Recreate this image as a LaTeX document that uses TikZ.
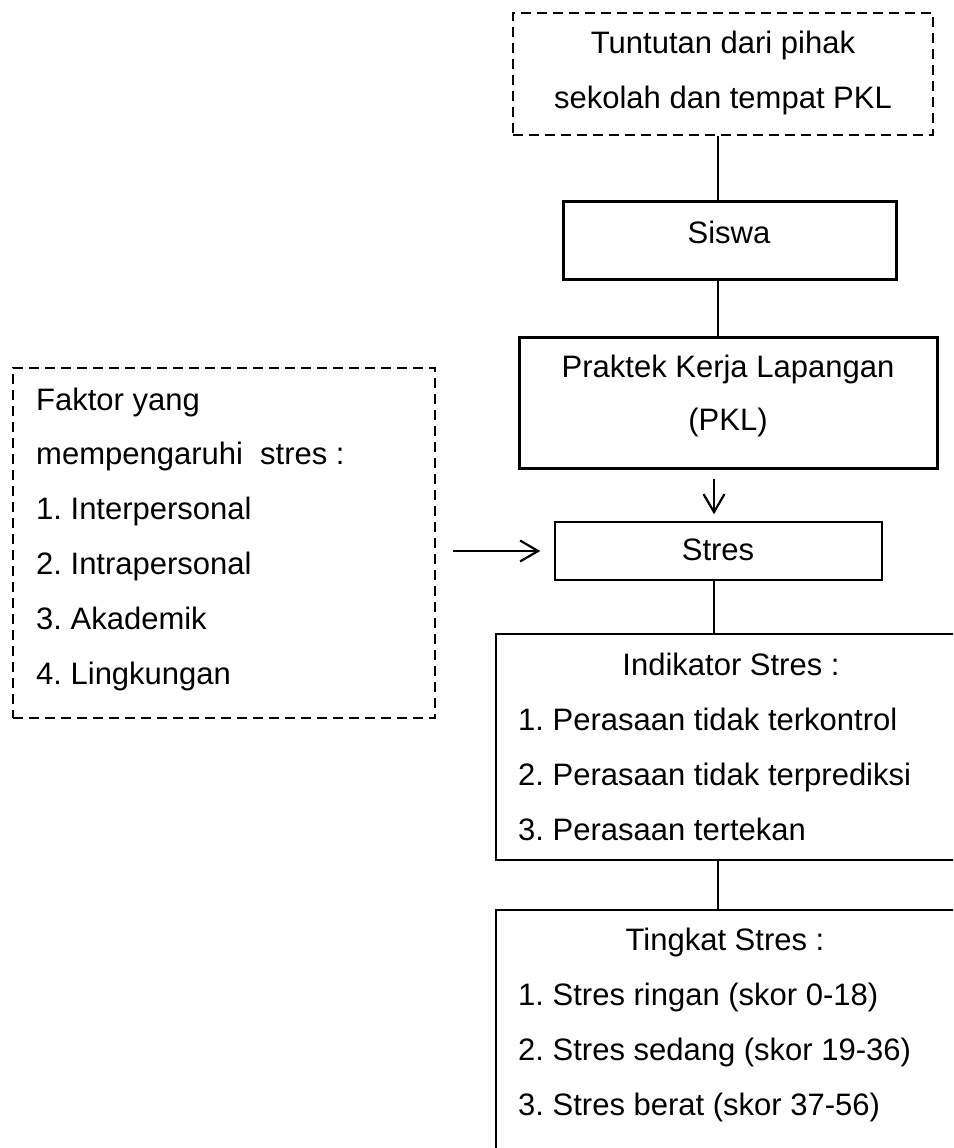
\documentclass[tikz,border=0pt]{standalone}
\usepackage{fontspec}
\setmainfont{Liberation Sans}
\usetikzlibrary{arrows.meta,calc}
\frenchspacing
\begin{document}
\begin{tikzpicture}[x=1pt,y=-1pt,
  txt/.style={font=\fontsize{31}{37}\selectfont, inner sep=0, anchor=base},
  txtl/.style={txt, anchor=base west},
  dbox/.style={draw, line width=2.4pt, dash pattern=on 10pt off 6pt, inner sep=0},
  tbox/.style={draw, line width=3pt, inner sep=0},
  nbox/.style={draw, line width=1.5pt, inner sep=0},
  conn/.style={line width=2pt},
  arr/.style={line width=2.2pt, -{Straight Barb[length=18pt,width=21pt]}}]
\useasboundingbox (0,0) rectangle (953,1148);
\clip (0,0) rectangle (953,1148);
% boxes
\node[dbox, minimum width=420pt, minimum height=122pt] (tuntutan) at (723,74) {};
\node[tbox, minimum width=333pt, minimum height=78pt] (siswa) at (729.5,240) {};
\node[tbox, minimum width=418pt, minimum height=131pt] (pkl) at (728,402.5) {};
\node[nbox, minimum width=327pt, minimum height=58pt] (stres) at (718.5,551) {};
\node[dbox, minimum width=422pt, minimum height=350pt] (faktor) at (224,543) {};
\node[nbox, minimum width=470pt, minimum height=226pt] (indikator) at (731,747) {};
\node[nbox, minimum width=470pt, minimum height=270pt] (tingkat) at (731,1045) {};
% connectors
\coordinate (cA) at (718,0);
\coordinate (cB) at (714,0);
\draw[conn] (tuntutan.south -| cA) -- (siswa.north -| cA);
\draw[conn] (siswa.south -| cA) -- (pkl.north -| cA);
\draw[arr, shorten <=9pt, shorten >=7pt] (pkl.south -| cB) -- (stres.north -| cB);
\draw[arr, shorten <=17pt, shorten >=14pt] (stres.west -| faktor.east) -- (stres.west);
\draw[conn] (stres.south -| cB) -- (indikator.north -| cB);
\draw[conn] (indikator.south -| cA) -- (tingkat.north -| cA);
% texts
\node[txt] (t1) at (723,53) {Tuntutan dari pihak};
\node[txt] (t2) at (723,108) {sekolah dan tempat PKL};
\node[txt] (s1) at (729,243) {Siswa};
\node[txt] (p1) at (728,377) {Praktek Kerja Lapangan};
\node[txt] (p2) at (728,430) {(PKL)};
\node[txt] (st) at (718,560) {Stres};
\node[txtl] (f1) at (36,410) {Faktor yang};
\node[txtl] (f2) at (36,464) {mempengaruhi\ \ stres :};
\node[txtl] (f3) at (36,519) {1. Interpersonal};
\node[txtl] (f4) at (36,574) {2. Intrapersonal};
\node[txtl] (f5) at (36,629) {3. Akademik};
\node[txtl] (f6) at (36,684) {4. Lingkungan};
\node[txt] (i0) at (731,675) {Indikator Stres :};
\node[txtl] (i1) at (518,730) {1. Perasaan tidak terkontrol};
\node[txtl] (i2) at (518,785) {2. Perasaan tidak terprediksi};
\node[txtl] (i3) at (518,840) {3. Perasaan tertekan};
\node[txt] (g0) at (725,950) {Tingkat Stres :};
\node[txtl] (g1) at (518,1005) {1. Stres ringan (skor 0-18)};
\node[txtl] (g2) at (518,1060) {2. Stres sedang (skor 19-36)};
\node[txtl] (g3) at (518,1115) {3. Stres berat (skor 37-56)};
\end{tikzpicture}
\end{document}
